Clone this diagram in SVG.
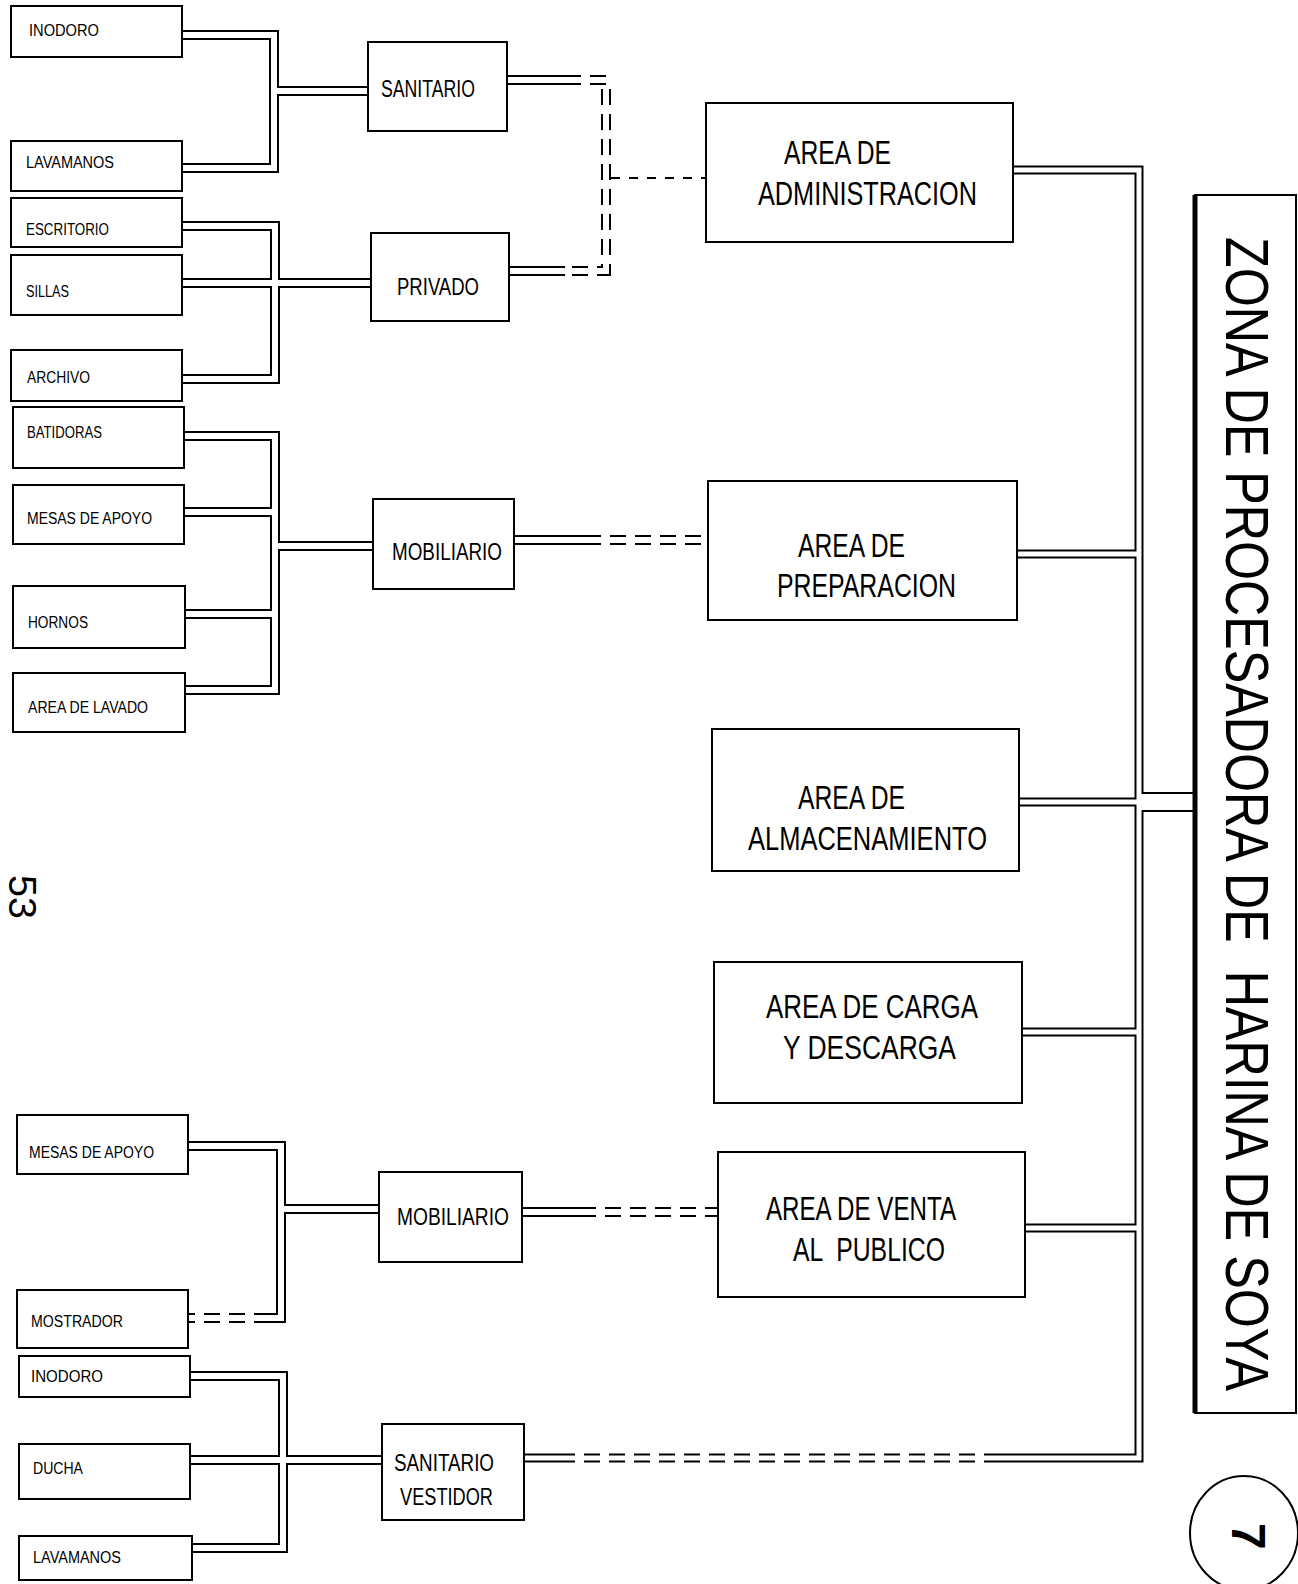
<svg xmlns="http://www.w3.org/2000/svg" xmlns:xlink="http://www.w3.org/1999/xlink" width="1298" height="1584" viewBox="0 0 1298 1584">
<style>
  text { font-family: "Liberation Sans", Arial, sans-serif; fill: #000; }
  .box { fill: #fff; stroke: #000; stroke-width: 2; }
  .sm { font-size: 16px; }
  .md { font-size: 24px; }
  .lg { font-size: 33px; }
  .outer { fill: none; stroke: #000; stroke-width: 10; stroke-linejoin: miter; }
  .inner { fill: none; stroke: #fff; stroke-width: 6; stroke-linejoin: miter; }
  .outerB { fill: none; stroke: #000; stroke-width: 9; }
  .innerB { fill: none; stroke: #fff; stroke-width: 5; }
  .outerW { fill: none; stroke: #000; stroke-width: 20; }
  .innerW { fill: none; stroke: #fff; stroke-width: 16; }
  .dash { stroke-dasharray: 16 9; }
  .single { fill: none; stroke: #000; stroke-width: 2; stroke-dasharray: 9 9; }
</style>
<defs>
  <path id="p1" d="M182,35 H274 V168 H182"/>
  <path id="p2" d="M274,91 H368"/>
  <path id="p3" d="M182,226 H275 V379 H182"/>
  <path id="p4" d="M182,283 H371"/>
  <path id="p5" d="M507,80 H565 M509,271 H565"/>
  <path id="p6" d="M565,80 H606 V271 H565"/>
  <path id="p7" d="M184,436 H275 V690 H185"/>
  <path id="p8" d="M184,512 H275 M185,614 H275"/>
  <path id="p9" d="M275,546 H373"/>
  <path id="p10" d="M514,540 H585"/>
  <path id="p11" d="M585,540 H708"/>
  <path id="bus" d="M1013,170 H1139 V1458 H1000"/>
  <path id="br" d="M1017,554 H1139 M1019,802 H1139 M1022,1032 H1139 M1025,1228 H1139"/>
  <path id="bt" d="M1139,802 H1195"/>
  <path id="bd" d="M1000,1458 H575"/>
  <path id="bs" d="M575,1458 H524"/>
  <path id="p12" d="M188,1146 H281 V1318 H270"/>
  <path id="p12d" d="M270,1318 H188"/>
  <path id="p13" d="M281,1209 H379"/>
  <path id="p14" d="M522,1212 H580"/>
  <path id="p14d" d="M580,1212 H718"/>
  <path id="p15" d="M190,1376 H283 V1548 H192"/>
  <path id="p16" d="M190,1460 H382"/>
</defs>

<g id="connectors">
  <g id="pipe-outlines">
    <use href="#p1" class="outer"/>
    <use href="#p2" class="outer"/>
    <use href="#p3" class="outer"/>
    <use href="#p4" class="outer"/>
    <use href="#p5" class="outer"/>
    <use href="#p6" class="outer dash"/>
    <use href="#p7" class="outer"/>
    <use href="#p8" class="outer"/>
    <use href="#p9" class="outer"/>
    <use href="#p10" class="outer"/>
    <use href="#p11" class="outer dash"/>
    <use href="#bus" class="outerB"/>
    <use href="#br" class="outerB"/>
    <use href="#bt" class="outerW"/>
    <use href="#bd" class="outerB dash"/>
    <use href="#bs" class="outerB"/>
    <use href="#p12" class="outer"/>
    <use href="#p12d" class="outer dash"/>
    <use href="#p13" class="outer"/>
    <use href="#p14" class="outer"/>
    <use href="#p14d" class="outer dash"/>
    <use href="#p15" class="outer"/>
    <use href="#p16" class="outer"/>
  </g>
  <g id="pipe-insides">
    <use href="#p1" class="inner"/>
    <use href="#p2" class="inner"/>
    <use href="#p3" class="inner"/>
    <use href="#p4" class="inner"/>
    <use href="#p5" class="inner"/>
    <use href="#p6" class="inner dash"/>
    <use href="#p7" class="inner"/>
    <use href="#p8" class="inner"/>
    <use href="#p9" class="inner"/>
    <use href="#p10" class="inner"/>
    <use href="#p11" class="inner dash"/>
    <use href="#bus" class="innerB"/>
    <use href="#br" class="innerB"/>
    <use href="#bt" class="innerW"/>
    <use href="#bd" class="innerB dash"/>
    <use href="#bs" class="innerB"/>
    <use href="#p12" class="inner"/>
    <use href="#p12d" class="inner dash"/>
    <use href="#p13" class="inner"/>
    <use href="#p14" class="inner"/>
    <use href="#p14d" class="inner dash"/>
    <use href="#p15" class="inner"/>
    <use href="#p16" class="inner"/>
  </g>
  <path id="admin-link" class="single" d="M611,178 H706"/>
</g>

<g id="n-inodoro-1"><rect class="box" x="11" y="6" width="171" height="51"/><text class="sm" x="29" y="36" textLength="70" lengthAdjust="spacingAndGlyphs">INODORO</text></g>
<g id="n-lavamanos-1"><rect class="box" x="11" y="141" width="171" height="50"/><text class="sm" x="26" y="168" textLength="88" lengthAdjust="spacingAndGlyphs">LAVAMANOS</text></g>
<g id="n-sanitario-1"><rect class="box" x="368" y="42" width="139" height="89"/><text class="md" x="381" y="97" textLength="94" lengthAdjust="spacingAndGlyphs">SANITARIO</text></g>
<g id="n-escritorio"><rect class="box" x="11" y="198" width="171" height="49"/><text class="sm" x="26" y="235" textLength="83" lengthAdjust="spacingAndGlyphs">ESCRITORIO</text></g>
<g id="n-sillas"><rect class="box" x="11" y="255" width="171" height="60"/><text class="sm" x="26" y="297" textLength="43" lengthAdjust="spacingAndGlyphs">SILLAS</text></g>
<g id="n-archivo"><rect class="box" x="11" y="350" width="171" height="51"/><text class="sm" x="27" y="383" textLength="63" lengthAdjust="spacingAndGlyphs">ARCHIVO</text></g>
<g id="n-privado"><rect class="box" x="371" y="233" width="138" height="88"/><text class="md" x="397" y="295" textLength="82" lengthAdjust="spacingAndGlyphs">PRIVADO</text></g>
<g id="n-batidoras"><rect class="box" x="13" y="407" width="171" height="61"/><text class="sm" x="27" y="438" textLength="75" lengthAdjust="spacingAndGlyphs">BATIDORAS</text></g>
<g id="n-mesas-1"><rect class="box" x="13" y="485" width="171" height="59"/><text class="sm" x="27" y="524" textLength="125" lengthAdjust="spacingAndGlyphs">MESAS DE APOYO</text></g>
<g id="n-hornos"><rect class="box" x="13" y="586" width="172" height="62"/><text class="sm" x="28" y="628" textLength="60" lengthAdjust="spacingAndGlyphs">HORNOS</text></g>
<g id="n-lavado"><rect class="box" x="13" y="673" width="172" height="59"/><text class="sm" x="28" y="713" textLength="120" lengthAdjust="spacingAndGlyphs">AREA DE LAVADO</text></g>
<g id="n-mobiliario-1"><rect class="box" x="373" y="499" width="141" height="90"/><text class="md" x="392" y="560" textLength="110" lengthAdjust="spacingAndGlyphs">MOBILIARIO</text></g>

<g id="n-admin"><rect class="box" x="706" y="103" width="307" height="139"/>
  <text class="lg" x="784" y="164" textLength="107" lengthAdjust="spacingAndGlyphs">AREA DE</text>
  <text class="lg" x="758" y="205" textLength="219" lengthAdjust="spacingAndGlyphs">ADMINISTRACION</text></g>
<g id="n-preparacion"><rect class="box" x="708" y="481" width="309" height="139"/>
  <text class="lg" x="798" y="557" textLength="107" lengthAdjust="spacingAndGlyphs">AREA DE</text>
  <text class="lg" x="777" y="597" textLength="179" lengthAdjust="spacingAndGlyphs">PREPARACION</text></g>
<g id="n-almacenamiento"><rect class="box" x="712" y="729" width="307" height="142"/>
  <text class="lg" x="798" y="809" textLength="107" lengthAdjust="spacingAndGlyphs">AREA DE</text>
  <text class="lg" x="748" y="850" textLength="239" lengthAdjust="spacingAndGlyphs">ALMACENAMIENTO</text></g>
<g id="n-carga"><rect class="box" x="714" y="962" width="308" height="141"/>
  <text class="lg" x="766" y="1018" textLength="212" lengthAdjust="spacingAndGlyphs">AREA DE CARGA</text>
  <text class="lg" x="783" y="1059" textLength="173" lengthAdjust="spacingAndGlyphs">Y DESCARGA</text></g>
<g id="n-venta"><rect class="box" x="718" y="1152" width="307" height="145"/>
  <text class="lg" x="766" y="1220" textLength="190" lengthAdjust="spacingAndGlyphs">AREA DE VENTA</text>
  <text class="lg" x="793" y="1261" textLength="152" lengthAdjust="spacingAndGlyphs" xml:space="preserve">AL  PUBLICO</text></g>

<g id="n-mesas-2"><rect class="box" x="17" y="1115" width="171" height="59"/><text class="sm" x="29" y="1158" textLength="125" lengthAdjust="spacingAndGlyphs">MESAS DE APOYO</text></g>
<g id="n-mobiliario-2"><rect class="box" x="379" y="1172" width="143" height="90"/><text class="md" x="397" y="1225" textLength="112" lengthAdjust="spacingAndGlyphs">MOBILIARIO</text></g>
<g id="n-mostrador"><rect class="box" x="17" y="1290" width="171" height="58"/><text class="sm" x="31" y="1327" textLength="92" lengthAdjust="spacingAndGlyphs">MOSTRADOR</text></g>
<g id="n-inodoro-2"><rect class="box" x="19" y="1356" width="171" height="41"/><text class="sm" x="31" y="1382" textLength="72" lengthAdjust="spacingAndGlyphs">INODORO</text></g>
<g id="n-sanitario-vestidor"><rect class="box" x="382" y="1424" width="142" height="96"/>
  <text class="md" x="394" y="1471" textLength="100" lengthAdjust="spacingAndGlyphs">SANITARIO</text>
  <text class="md" x="400" y="1505" textLength="93" lengthAdjust="spacingAndGlyphs">VESTIDOR</text></g>
<g id="n-ducha"><rect class="box" x="19" y="1444" width="171" height="55"/><text class="sm" x="33" y="1474" textLength="50" lengthAdjust="spacingAndGlyphs">DUCHA</text></g>
<g id="n-lavamanos-2"><rect class="box" x="19" y="1536" width="173" height="44"/><text class="sm" x="33" y="1563" textLength="88" lengthAdjust="spacingAndGlyphs">LAVAMANOS</text></g>

<g id="n-title">
  <rect x="1195" y="195" width="101" height="1218" fill="#fff" stroke="#000" stroke-width="2"/>
  <line x1="1195" y1="195" x2="1195" y2="1413" stroke="#000" stroke-width="5"/>
  <text transform="translate(1226,237) rotate(90) scale(1,1.2)" font-size="51" textLength="1154" lengthAdjust="spacingAndGlyphs" xml:space="preserve">ZONA DE PROCESADORA DE  HARINA DE SOYA</text>
</g>

<g id="page-number">
  <text transform="translate(9,875) rotate(90)" font-size="38" textLength="44" lengthAdjust="spacingAndGlyphs">53</text>
</g>
<g id="sheet-number">
  <ellipse cx="1244" cy="1533" rx="54" ry="57" fill="none" stroke="#000" stroke-width="2"/>
  <text transform="translate(1232,1523) rotate(90)" font-size="48" font-weight="bold">7</text>
</g>
</svg>
